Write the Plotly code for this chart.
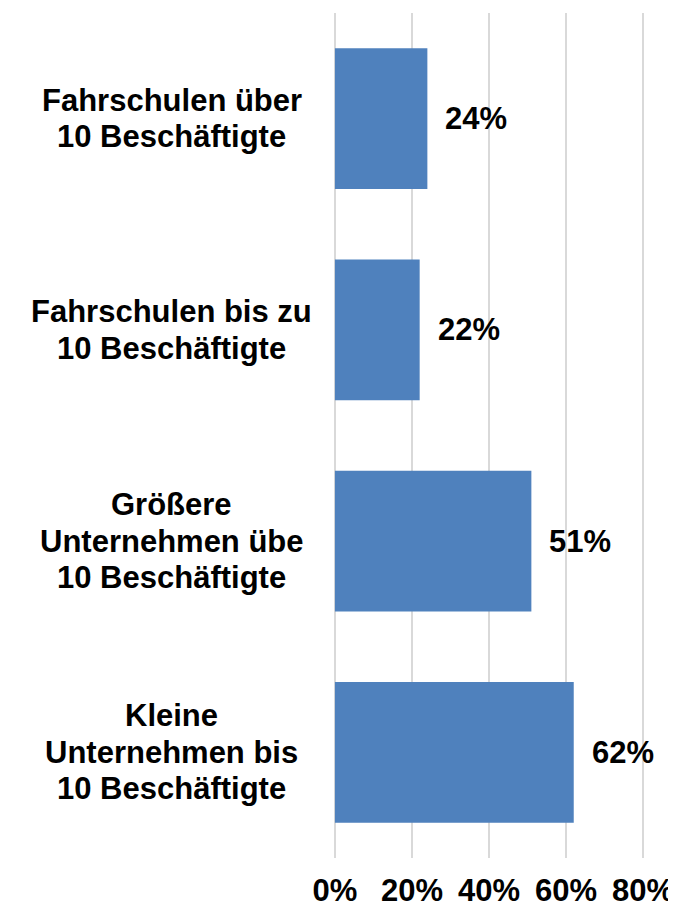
import plotly.graph_objects as go

categories = [
    "Fahrschulen über<br>10 Beschäftigte",
    "Fahrschulen bis zu<br>10 Beschäftigte",
    "Größere<br>Unternehmen übe<br>10 Beschäftigte",
    "Kleine<br>Unternehmen bis<br>10 Beschäftigte",
]
values = [24, 22, 51, 62]
x_ticks = [0, 20, 40, 60, 80]
x_tick_labels = ["0%", "20%", "40%", "60%", "80%"]

FONT = "Liberation Sans, Arial, sans-serif"
# page body has an 8px default margin, so the figure is drawn 8px in
W, H = 668, 901
L, R, T, B = 325, 31, 5, 51
PW = W - L - R
LINE_H = 36.5

fig = go.Figure()
fig.add_trace(go.Bar(
    y=categories,
    x=values,
    orientation="h",
    marker=dict(color="#4F81BD", line=dict(width=0)),
    hoverinfo="skip",
))

annotations = []
for c, v in zip(categories, values):
    annotations.append(dict(
        x=v, y=c, xref="x", yref="y",
        text=f"{v}%", showarrow=False,
        xanchor="left", yanchor="middle", xshift=16,
        font=dict(family=FONT, size=31, color="#000000", weight="bold"),
    ))
    lines = c.split("<br>")
    n = len(lines)
    for k, line in enumerate(lines):
        annotations.append(dict(
            x=(164 - L) / PW, y=c, xref="paper", yref="y",
            text=line, showarrow=False, align="center",
            xanchor="center", yanchor="middle",
            yshift=-(k - (n - 1) / 2) * LINE_H,
            font=dict(family=FONT, size=31, color="#000000", weight="bold"),
        ))

fig.update_layout(
    width=W, height=H,
    margin=dict(l=L, r=R, t=T, b=B, autoexpand=False),
    paper_bgcolor="white", plot_bgcolor="white",
    bargap=0.333,
    showlegend=False,
    annotations=annotations,
    xaxis=dict(
        range=[-0.5, 80.5], tickvals=x_ticks, ticktext=x_tick_labels,
        showgrid=True, gridcolor="#D9D9D9", gridwidth=2,
        zeroline=False, showline=False, ticks="",
        ticklabelstandoff=11, automargin=False,
        tickfont=dict(family=FONT, size=31, color="#000000", weight="bold"),
        fixedrange=True,
    ),
    yaxis=dict(
        autorange="reversed", showticklabels=False, showgrid=False,
        zeroline=False, showline=False, ticks="", fixedrange=True,
        automargin=False,
    ),
)

fig.write_html("out.html")
